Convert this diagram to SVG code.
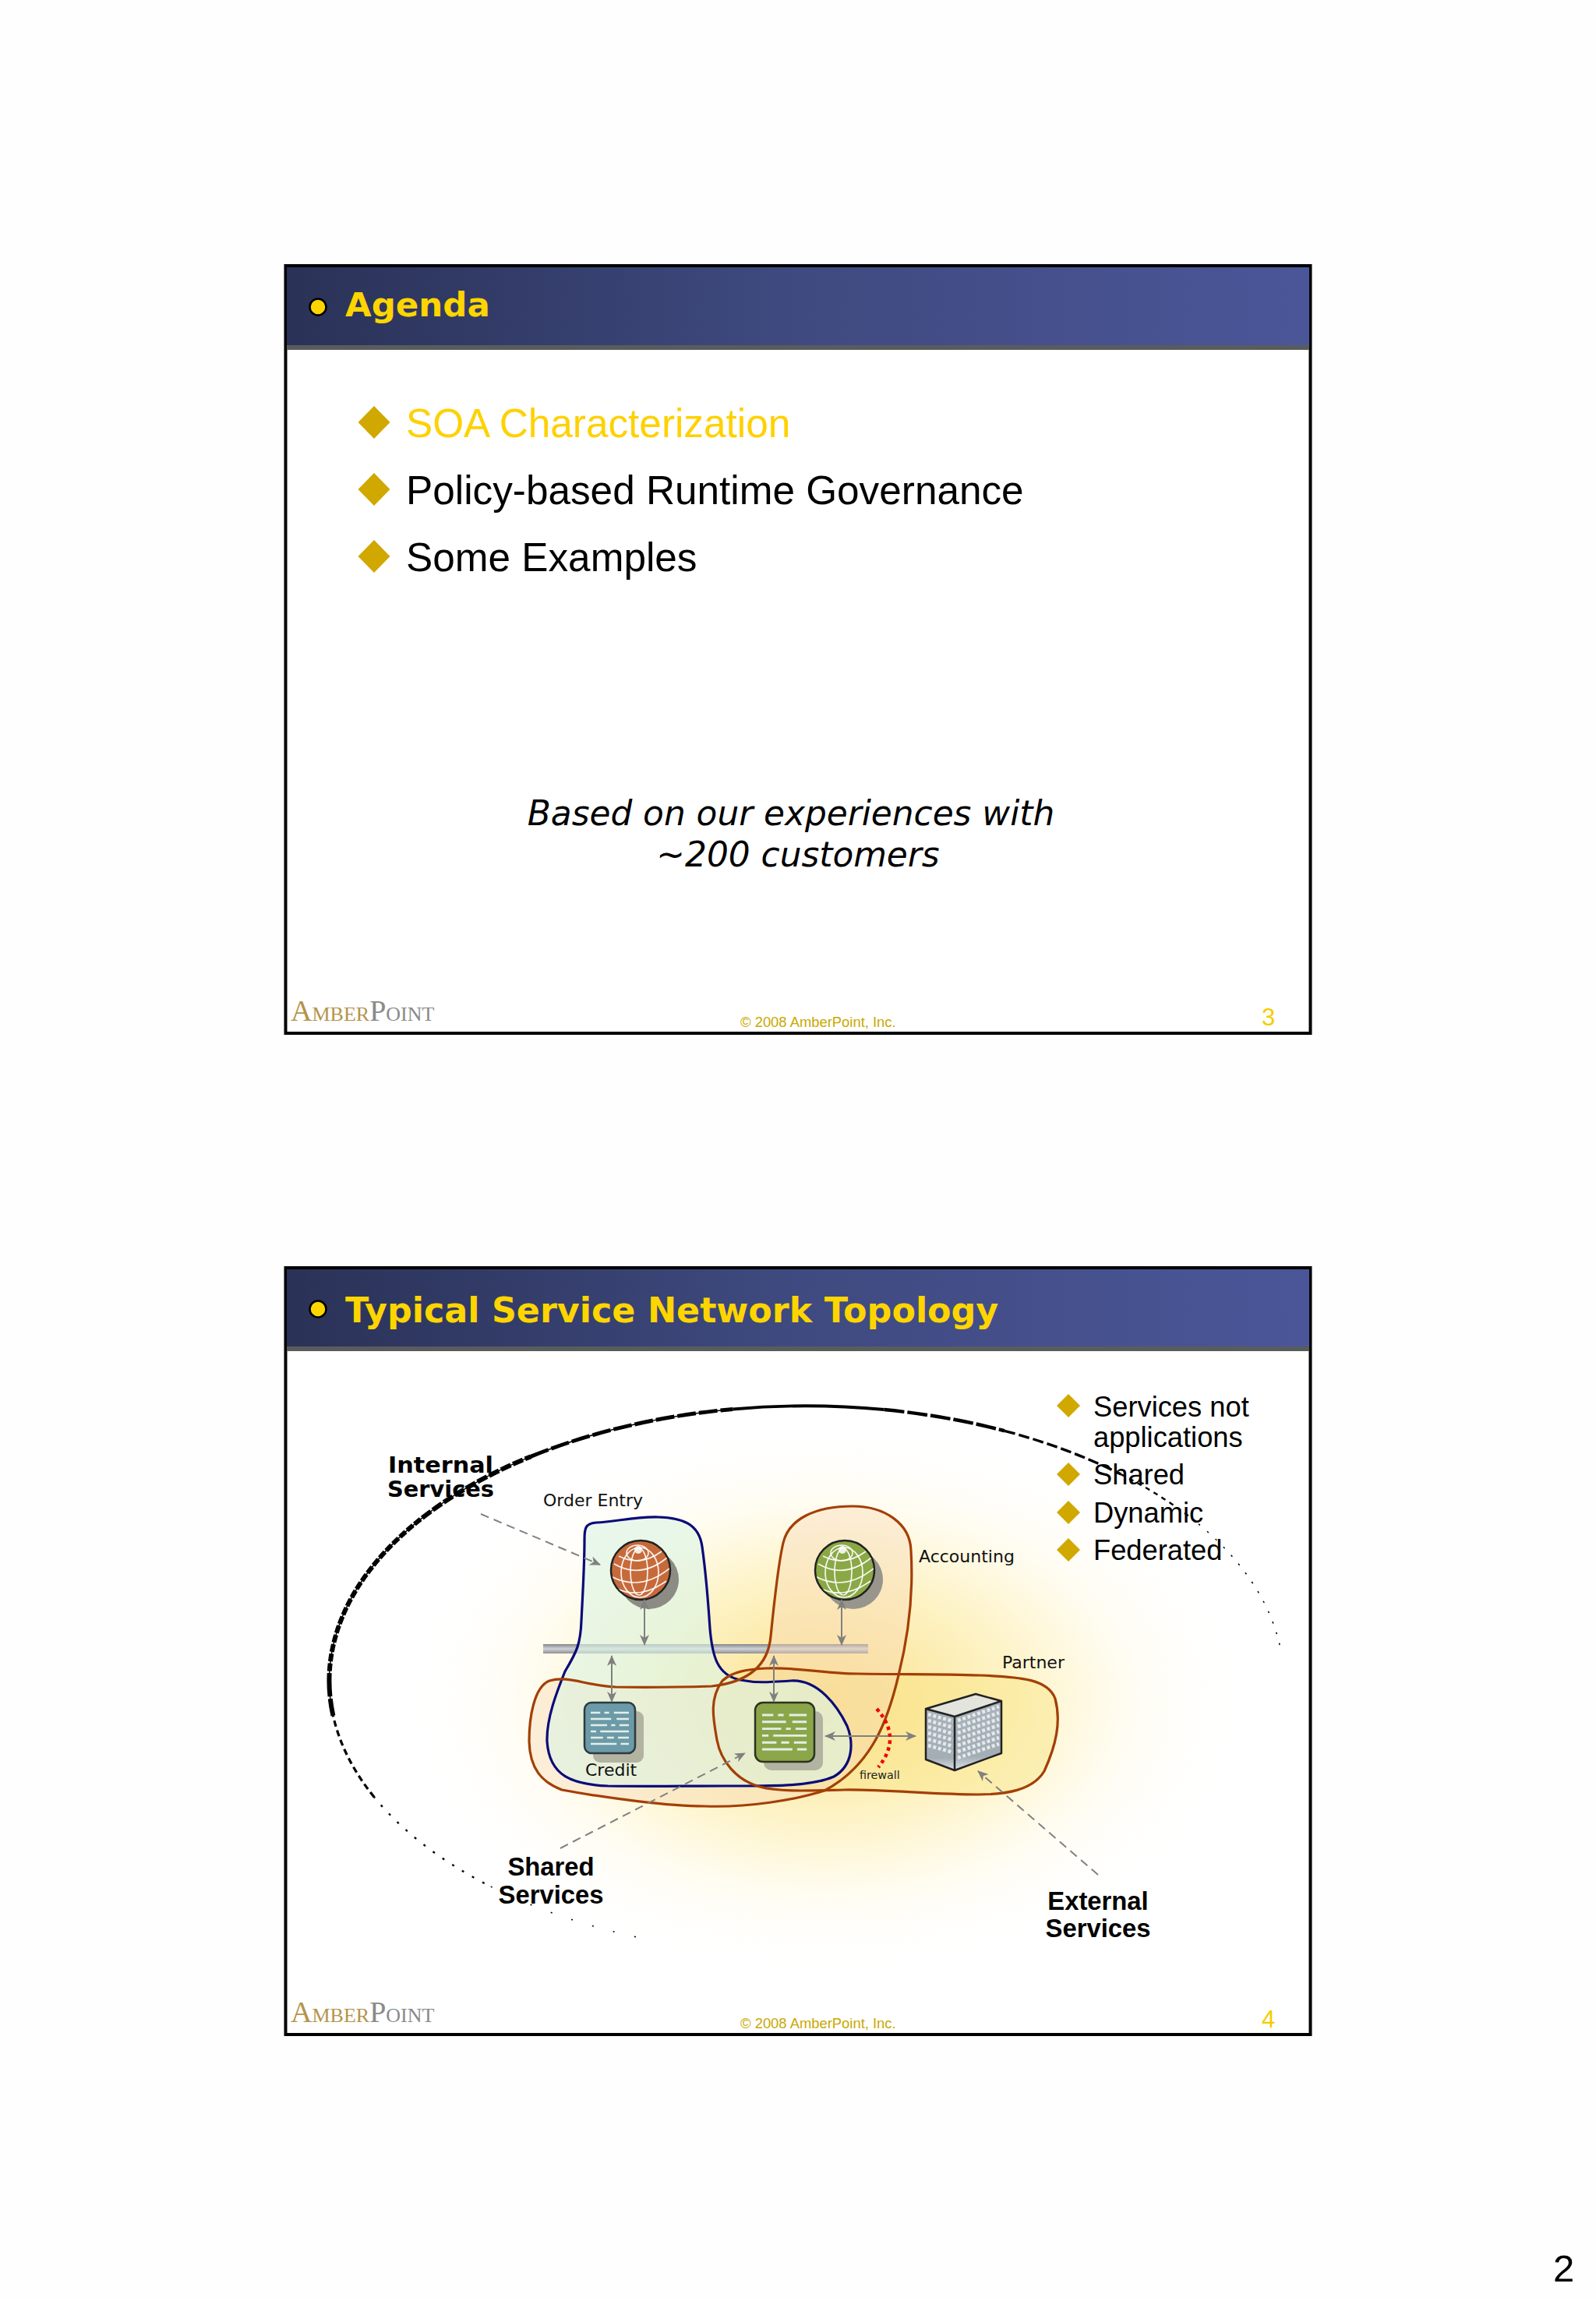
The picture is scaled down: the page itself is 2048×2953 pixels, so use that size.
<svg xmlns="http://www.w3.org/2000/svg" xmlns:xlink="http://www.w3.org/1999/xlink" width="2048" height="2953" viewBox="0 0 2048 2953">
<style>
.frame{fill:#fff;stroke:#000;stroke-width:4}
.strip{fill:#595c5c}
.title{font-family:"DejaVu Sans",sans-serif;font-weight:700;font-size:43.500px;fill:#ffd500}
.dot{fill:#ffd500;stroke:#000;stroke-width:2.5}
.big{font-family:"Liberation Sans",Arial,sans-serif;font-size:51.300px;fill:#000}
.mid{font-family:"Liberation Sans",Arial,sans-serif;font-size:36.300px;fill:#000}
.dia{fill:#d0a800}
.ital{font-family:"DejaVu Sans",sans-serif;font-style:italic;font-size:43.800px;fill:#000;text-anchor:middle}
.copy{font-family:"Liberation Sans",Arial,sans-serif;font-size:18.400px;fill:#c9a800}
.num{font-family:"Liberation Sans",Arial,sans-serif;font-size:31px;fill:#f5cc00}
.logo{font-family:"Liberation Serif",serif;font-size:38px}
.lb{font-family:"DejaVu Sans",sans-serif;font-size:22px;fill:#111}
.hb{font-family:"DejaVu Sans",sans-serif;font-weight:700;font-size:28.5px;fill:#000}
.sb{font-family:"Liberation Sans",Arial,sans-serif;font-weight:700;font-size:32.800px;fill:#000;text-anchor:middle}
.arc{fill:none;stroke:#000}
.reg{fill:none;stroke-width:3.2}
.or{stroke:#a33f06}
.bl{stroke:#0b0b78}
.ar{fill:none;stroke:#808080;stroke-width:2;marker-start:url(#ah);marker-end:url(#ah)}
.da{fill:none;stroke:#808080;stroke-width:2;stroke-dasharray:11 7;marker-end:url(#ah)}
.gl{fill:none;stroke:#fff;stroke-width:1.7;opacity:.9}
.dl{stroke:#e4eee8;stroke-width:2.6;fill:none}
.win{fill:none;stroke:#e3e9ec;stroke-width:4.5;stroke-dasharray:4 2.6}
</style>
<defs>
<linearGradient id="hd" x1="0" x2="1" y1="0" y2="0"><stop offset="0" stop-color="#2a3257"/><stop offset=".5" stop-color="#3f4a80"/><stop offset="1" stop-color="#4b5699"/></linearGradient>
<linearGradient id="bar" x1="0" x2="0" y1="0" y2="1"><stop offset="0" stop-color="#85858d"/><stop offset=".5" stop-color="#cfd4d6"/><stop offset="1" stop-color="#8e8e96"/></linearGradient>
<radialGradient id="glow"><stop offset="0" stop-color="#fbe08c"/><stop offset=".4" stop-color="#fdf2c2"/><stop offset=".68" stop-color="#fffcef"/><stop offset="1" stop-color="#fefefe" stop-opacity="0"/></radialGradient>
<linearGradient id="lf" x1="0" x2="0" y1="0" y2="1"><stop offset="0" stop-color="#a9b3b9"/><stop offset=".8" stop-color="#a3aeb4"/><stop offset="1" stop-color="#dbe3e8"/></linearGradient>
<marker id="ah" viewBox="0 0 14 12" markerUnits="userSpaceOnUse" markerWidth="14" markerHeight="12" refX="13" refY="6" orient="auto-start-reverse"><path d="M14 6 L0 0 L4 6 L0 12 Z" fill="#808080"/></marker>
<clipPath id="gc"><circle r="37"/></clipPath>
<g id="glines" clip-path="url(#gc)">
<ellipse class="gl" cx="-2" cy="2" rx="11" ry="30"/>
<ellipse class="gl" cx="-1" cy="3" rx="24" ry="32"/>
<ellipse class="gl" cx="-4" cy="-22" rx="14" ry="10"/>
<path class="gl" d="M-34 -8 Q0 12 34 -16M-38 8 Q0 28 37 -2M-30 24 Q0 38 33 14M-28 -18 Q0 -4 27 -24"/>
<circle cx="-3" cy="-26" r="5" fill="#fff" opacity=".85"/>
</g>
<g id="doclines">
<path class="dl" d="M0 0h14m6 0h7m7 0h22M0 8h30m8 0h18M0 16h24m6 0h6m6 0h14M0 24h8m6 0h42M0 32h18m6 0h10m6 0h16M0 40h38m6 0h12"/>
</g>
<path id="p-partner" d="M984 2141C1030 2140 1060 2148 1100 2148C1160 2149 1210 2148 1257 2150C1310 2152 1345 2155 1354 2180C1362 2210 1355 2240 1340 2273C1325 2298 1290 2303 1255 2303C1200 2303 1130 2296 1083 2297C1040 2298 1000 2300 975 2293C945 2285 925 2260 920 2233C915 2205 910 2180 927 2157C940 2145 960 2142 984 2141Z"/>
<path id="p-acct" d="M1094 1933C1135 1933 1168 1955 1169 1990C1172 2040 1168 2090 1153 2150C1140 2205 1120 2265 1058 2298C1020 2310 960 2320 904 2318C860 2318 780 2308 721 2297C695 2287 680 2270 679 2235C679 2205 685 2165 705 2157C730 2150 750 2163 790 2165C830 2166 880 2165 913 2164C950 2160 985 2145 989 2100C993 2060 998 2010 1005 1980C1012 1950 1045 1933 1094 1933Z"/>
<path id="p-int" d="M750 1975C750 1960 752 1955 765 1954C790 1953 815 1946 845 1947C875 1948 897 1955 901 1985C906 2020 909 2060 911 2090C914 2125 920 2150 950 2156C970 2160 985 2159 1015 2157C1050 2155 1075 2190 1087 2215C1095 2235 1096 2265 1070 2280C1040 2293 990 2292 930 2292C880 2292 830 2293 780 2292C735 2290 705 2280 702 2235C701 2205 715 2170 725 2145C740 2120 745 2110 746 2080C748 2040 750 2010 750 1975Z"/>
</defs>
<rect id="page" width="2048" height="2953" fill="#fefefe"/>

<g id="slide-agenda">
<rect class="frame" x="366.500" y="341" width="1315" height="985"/>
<rect x="368" y="343" width="1312" height="100" fill="url(#hd)"/>
<rect class="strip" x="368" y="443" width="1312" height="6"/>
<circle class="dot" cx="408" cy="394" r="10.500"/>
<text class="title" x="443" y="406">Agenda</text>
<g id="agenda-list">
<polygon class="dia" points="480,521 500.500,542 480,563 459.500,542"/>
<text class="big" x="521" y="561" style="fill:#ffd100">SOA Characterization</text>
<polygon class="dia" points="480,607 500.500,628 480,649 459.500,628"/>
<text class="big" x="521" y="647">Policy-based Runtime Governance</text>
<polygon class="dia" points="480,693 500.500,714 480,735 459.500,714"/>
<text class="big" x="521" y="733">Some Examples</text>
</g>
<text class="ital" x="1015" y="1059">Based on our experiences with</text>
<text class="ital" x="1024" y="1112">~200 customers</text>
<text class="logo" x="373" y="1310"><tspan fill="#b4944a">A</tspan><tspan fill="#b4944a" font-size="26">MBER</tspan><tspan fill="#8a8a8a">P</tspan><tspan fill="#8a8a8a" font-size="26">OINT</tspan></text>
<text class="copy" x="950" y="1318">© 2008 AmberPoint, Inc.</text>
<text class="num" x="1619" y="1316">3</text>
</g>

<g id="slide-topology">
<rect class="frame" x="366.500" y="1627" width="1315" height="984"/>
<rect x="368" y="1629" width="1312" height="99" fill="url(#hd)"/>
<rect class="strip" x="368" y="1728" width="1312" height="6"/>
<circle class="dot" cx="408" cy="1680" r="10.500"/>
<text class="title" x="443" y="1697" style="font-size:44.400px">Typical Service Network Topology</text>
<ellipse id="glow-bg" cx="1060" cy="2180" rx="550" ry="360" fill="url(#glow)"/>
<g id="bus"><rect x="697" y="2110" width="417" height="12" fill="url(#bar)"/></g>
<g id="region-fills">
<use xlink:href="#p-partner" href="#p-partner" fill="#f7e37c" fill-opacity=".42"/>
<use xlink:href="#p-acct" href="#p-acct" fill="#f9d8b4" fill-opacity=".42"/>
<use xlink:href="#p-int" href="#p-int" fill="#dcf3e4" fill-opacity=".62"/>
</g>
<g id="internal-region"><use class="reg bl" xlink:href="#p-int" href="#p-int"/></g>
<g id="partner-region"><use class="reg or" xlink:href="#p-partner" href="#p-partner"/></g>
<g id="accounting-region"><use class="reg or" xlink:href="#p-acct" href="#p-acct"/></g>

<g id="order-entry-globe">
<circle cx="833" cy="2027" r="38" fill="#8c8c84"/>
<g transform="translate(822 2015)"><circle r="38" fill="#c76a3a" stroke="#222" stroke-width="2.500"/><use xlink:href="#glines" href="#glines"/></g>
<text class="lb" x="697" y="1933">Order Entry</text>
</g>
<g id="accounting-globe">
<circle cx="1095" cy="2027" r="38" fill="#97958c"/>
<g transform="translate(1084 2015)"><circle r="38" fill="#8aa845" stroke="#222" stroke-width="2.500"/><use xlink:href="#glines" href="#glines"/></g>
<text class="lb" x="1179" y="2005">Accounting</text>
</g>
<g id="credit-doc">
<rect x="761" y="2196" width="65" height="66" rx="9" fill="#b3b3a2"/>
<rect x="750" y="2185" width="65" height="65" rx="9" fill="#6b9aa8" stroke="#2f3a3e" stroke-width="2.500"/>
<use xlink:href="#doclines" href="#doclines" transform="translate(758 2198) scale(.875 1)"/>
<text class="lb" x="751" y="2279">Credit</text>
</g>
<g id="shared-doc">
<rect x="980" y="2196" width="76" height="76" rx="10" fill="#b3b3a2"/>
<rect x="969" y="2185" width="76" height="76" rx="10" fill="#8ba648" stroke="#2c3320" stroke-width="2.500"/>
<use xlink:href="#doclines" href="#doclines" transform="translate(978 2201) scale(1.02 1.1)"/>
</g>
<g id="partner-building">
<polygon points="1188,2193 1225,2203 1225,2272 1188,2258" fill="url(#lf)"/>
<polygon points="1225,2203 1285,2183 1285,2250 1225,2272" fill="url(#lf)"/>
<path class="win" d="M1191 2200L1223 2209M1191 2208L1223 2217M1191 2216L1223 2225M1191 2224L1223 2233M1191 2232L1223 2241M1191 2240L1223 2249"/>
<path class="win" d="M1229 2208L1282 2190M1229 2216L1282 2198M1229 2224L1282 2206M1229 2232L1282 2214M1229 2240L1282 2222M1229 2248L1282 2230M1229 2256L1282 2238"/>
<polygon points="1188,2193 1252,2174 1285,2183 1225,2203" fill="#e3e4dc"/>
<path d="M1188 2193L1252 2174L1285 2183L1225 2203ZM1188 2193V2258L1225 2272L1285 2250V2183M1225 2203V2272" fill="none" stroke="#222" stroke-width="2.500" stroke-linejoin="round"/>
<text class="lb" x="1286" y="2141">Partner</text>
</g>

<g id="connectors">
<path class="ar" d="M827 2053V2111"/>
<path class="ar" d="M1080 2053V2111"/>
<path class="ar" d="M785 2125V2184"/>
<path class="ar" d="M993 2125V2184"/>
<path class="ar" d="M1059 2228H1175"/>
<path class="da" d="M617 1943L770 2008"/>
<path class="da" d="M719 2372L956 2250"/>
<path class="da" d="M1409 2406L1255 2273"/>
</g>
<g id="firewall">
<path d="M1125 2193Q1158 2230 1127 2268" fill="none" stroke="#f00000" stroke-width="4.500" stroke-dasharray="4.500 4.500"/>
<text x="1103" y="2283" font-family="'DejaVu Sans',sans-serif" font-size="14.300" fill="#222">firewall</text>
</g>

<g id="labels">
<text class="hb" x="498" y="1890" textLength="135" lengthAdjust="spacingAndGlyphs">Internal</text>
<text class="hb" x="497" y="1921" textLength="137" lengthAdjust="spacingAndGlyphs">Services</text>
<text class="sb" x="707" y="2407">Shared</text>
<text class="sb" x="707" y="2443">Services</text>
<text class="sb" x="1409" y="2451">External</text>
<text class="sb" x="1409" y="2486">Services</text>
</g>
<g id="topology-list">
<polygon class="dia" points="1371,1789 1386,1804 1371,1819 1356,1804"/>
<text class="mid" x="1403" y="1818">Services not</text>
<text class="mid" x="1403" y="1857">applications</text>
<polygon class="dia" points="1371,1877 1386,1892 1371,1907 1356,1892"/>
<text class="mid" x="1403" y="1905">Shared</text>
<polygon class="dia" points="1371,1926 1386,1941 1371,1956 1356,1941"/>
<text class="mid" x="1403" y="1954">Dynamic</text>
<polygon class="dia" points="1371,1974 1386,1989 1371,2004 1356,1989"/>
<text class="mid" x="1403" y="2002">Federated</text>
</g>
<g id="service-network-arc" transform="translate(1035 2157) scale(.996) translate(-1035 -2157)">
<path class="arc" stroke-width="1.600" stroke-dasharray="2 26" d="M815 2487A615 354 0 0 1 620 2418"/>
<path class="arc" stroke-width="2.400" stroke-dasharray="3 12" d="M620 2418A615 354 0 0 1 478 2307"/>
<path class="arc" stroke-width="1.500" d="M425 2202A615 354 0 0 1 420 2157A615 354 0 0 1 540 1947A615 354 0 0 1 680 1868A615 354 0 0 1 940 1807"/>
<path class="arc" stroke-width="3.200" stroke-dasharray="8 5" d="M478 2307A615 354 0 0 1 425 2202"/>
<path class="arc" stroke-width="6" stroke-dasharray="22 3" d="M425 2202A615 354 0 0 1 420 2157"/>
<path class="arc" stroke-width="6" stroke-dasharray="10 2.500" d="M420 2157A615 354 0 0 1 540 1947"/>
<path class="arc" stroke-width="6" stroke-dasharray="14 3" d="M540 1947A615 354 0 0 1 680 1868"/>
<path class="arc" stroke-width="5" stroke-dasharray="24 4" d="M680 1868A615 354 0 0 1 940 1807"/>
<path class="arc" stroke-width="4" d="M940 1807A615 354 0 0 1 1135 1807.700"/>
<path class="arc" stroke-width="4.500" stroke-dasharray="26 4" d="M1135 1807.700A615 354 0 0 1 1290 1835"/>
<path class="arc" stroke-width="3.400" stroke-dasharray="14 5" d="M1290 1835A615 354 0 0 1 1440 1891"/>
<path class="arc" stroke-width="2.400" stroke-dasharray="6 6" d="M1440 1891A615 354 0 0 1 1540 1955"/>
<path class="arc" stroke-width="1.500" stroke-dasharray="2.500 12" d="M1540 1955A615 354 0 0 1 1646 2118"/>
</g>
<text class="logo" x="373" y="2595"><tspan fill="#b4944a">A</tspan><tspan fill="#b4944a" font-size="26">MBER</tspan><tspan fill="#8a8a8a">P</tspan><tspan fill="#8a8a8a" font-size="26">OINT</tspan></text>
<text class="copy" x="950" y="2603">© 2008 AmberPoint, Inc.</text>
<text class="num" x="1619" y="2602">4</text>
</g>
<text id="page-number" x="1993" y="2928" font-family="'Liberation Sans',Arial,sans-serif" font-size="49" fill="#000">2</text>
</svg>
